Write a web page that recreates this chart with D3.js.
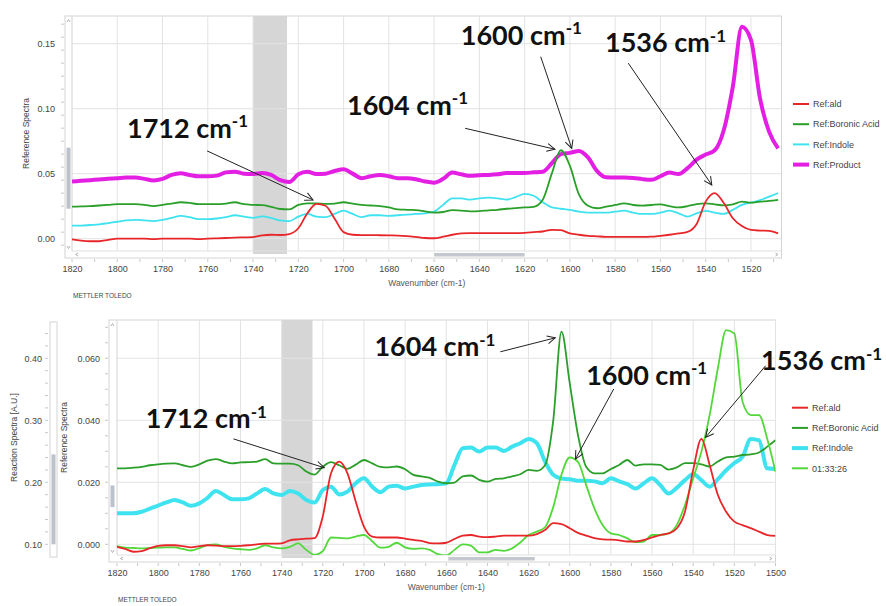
<!DOCTYPE html>
<html><head><meta charset="utf-8">
<script src="https://cdn.jsdelivr.net/npm/d3@7"></script>
<style>body{margin:0;background:#fff}svg{display:block}</style>
</head><body>
<svg id="chart" width="886" height="606"></svg>
<script>
// ---------------- DATA ----------------
const topWavenumbers = [1820,1816,1812,1808,1804,1800,1796,1792,1788,1784,1780,1776,1772,1768,1764,1760,1756,1752,1748,1744,1740,1736,1732,1728,1724,1720,1716,1712,1708,1704,1700,1696,1692,1688,1684,1680,1676,1672,1668,1664,1660,1656,1652,1648,1644,1640,1636,1632,1628,1624,1620,1616,1612,1608,1604,1600,1596,1592,1588,1584,1580,1576,1572,1568,1564,1560,1556,1552,1548,1544,1540,1536,1532,1528,1524,1520,1516,1512,1508];
const topAld = [-0.0005,-0.0015,-0.002,-0.002,-0.001,0.0,0.0,0.0,0.0,-0.0003,
  0.0,0.0,0.0,0.0,-0.0003,0.0,0.0002,0.0005,0.0008,0.001,
  0.0012,0.0025,0.003,0.0028,0.0035,0.008,0.0195,0.0267,0.0253,0.0155,
  0.005,0.003,0.0027,0.0027,0.0026,0.0025,0.0024,0.002,0.0013,0.0005,
  0.0003,0.0015,0.003,0.004,0.0043,0.0042,0.0042,0.0042,0.0043,0.0043,
  0.0045,0.005,0.0055,0.0068,0.0065,0.004,0.003,0.0022,0.0018,0.0014,
  0.0013,0.0013,0.0013,0.0013,0.0015,0.0022,0.003,0.004,0.0052,0.0113,
  0.0285,0.035,0.0274,0.0157,0.0097,0.0067,0.0062,0.006,0.004];
const topBoronic = [0.0246,0.0248,0.025,0.0255,0.026,0.0265,0.0265,0.0265,0.026,0.025,
  0.026,0.027,0.028,0.0275,0.0265,0.0265,0.0265,0.027,0.028,0.0265,
  0.026,0.0258,0.0245,0.0228,0.0225,0.026,0.0272,0.0272,0.0268,0.027,
  0.028,0.027,0.026,0.0255,0.025,0.024,0.0226,0.0222,0.022,0.021,
  0.020,0.0205,0.022,0.0215,0.021,0.0212,0.0218,0.0222,0.023,0.0235,
  0.024,0.0245,0.030,0.050,0.068,0.056,0.034,0.0253,0.0234,0.0246,
  0.0259,0.0272,0.0259,0.0254,0.0259,0.0264,0.025,0.024,0.025,0.0266,
  0.0272,0.0264,0.0256,0.0264,0.0285,0.0277,0.0285,0.029,0.0298];
const topIndole = [0.010,0.010,0.0105,0.011,0.012,0.013,0.014,0.0145,0.014,0.0135,
  0.0145,0.016,0.0175,0.0165,0.015,0.015,0.0155,0.0165,0.018,0.017,
  0.016,0.0172,0.016,0.014,0.0135,0.017,0.019,0.017,0.0165,0.019,
  0.0215,0.019,0.0165,0.018,0.018,0.0175,0.018,0.0185,0.019,0.0195,
  0.0208,0.026,0.031,0.031,0.030,0.031,0.0315,0.031,0.030,0.032,
  0.0344,0.033,0.028,0.024,0.023,0.0221,0.0208,0.020,0.020,0.020,
  0.0208,0.0215,0.020,0.019,0.019,0.020,0.0215,0.0195,0.0169,0.0195,
  0.0213,0.020,0.019,0.0221,0.026,0.0277,0.0297,0.0323,0.035];
const topProduct = [0.044,0.0445,0.045,0.0455,0.046,0.0465,0.047,0.047,0.046,0.0448,
  0.046,0.049,0.0503,0.049,0.048,0.048,0.0485,0.051,0.0515,0.050,
  0.0498,0.0505,0.049,0.045,0.0435,0.0495,0.0515,0.0498,0.050,0.052,
  0.0534,0.050,0.0465,0.048,0.049,0.048,0.0465,0.0465,0.0457,0.044,
  0.0431,0.046,0.0508,0.0495,0.0483,0.0488,0.049,0.0495,0.0505,0.0505,
  0.0505,0.051,0.0515,0.058,0.065,0.066,0.0675,0.0625,0.052,0.0472,
  0.047,0.047,0.0467,0.0458,0.0453,0.048,0.0508,0.0497,0.0543,0.0608,
  0.0647,0.068,0.0836,0.117,0.163,0.153,0.108,0.0823,0.0695];

const botWavenumbers = [1820,1816,1812,1808,1804,1800,1796,1792,1788,1784,1780,1776,1772,1768,1764,1760,1756,1752,1748,1744,1740,1736,1732,1728,1724,1720,1716,1712,1708,1704,1700,1696,1692,1688,1684,1680,1676,1672,1668,1664,1660,1656,1652,1648,1644,1640,1636,1632,1628,1624,1620,1616,1612,1608,1604,1600,1596,1592,1588,1584,1580,1576,1572,1568,1564,1560,1556,1552,1548,1544,1540,1536,1532,1528,1524,1520,1516,1512,1508,1504,1500];
const botAld = [-0.0008,-0.0015,-0.0024,-0.0022,-0.0012,-0.0005,-0.0003,-0.0003,-0.0006,-0.001,
  -0.0006,-0.0003,-0.0004,-0.0006,-0.0006,-0.0005,-0.0003,0.0,0.0002,0.0002,
  0.0003,0.0013,0.0016,0.0018,0.002,0.009,0.0229,0.0267,0.0229,0.0138,
  0.0057,0.0025,0.0022,0.0022,0.0022,0.0018,0.0014,0.0011,0.0004,0.0003,
  0.0005,0.0017,0.0028,0.003,0.0025,0.0023,0.0025,0.0028,0.0028,0.0028,
  0.0028,0.0033,0.0046,0.0068,0.0065,0.0052,0.0037,0.0028,0.002,0.0016,
  0.0015,0.0013,0.0009,0.0009,0.0014,0.0022,0.003,0.0035,0.0051,0.0105,
  0.024,0.034,0.0256,0.0159,0.0105,0.0073,0.0062,0.0052,0.0041,0.003,0.0027];
const botBoronic = [0.0245,0.0245,0.0247,0.025,0.0255,0.0258,0.026,0.0261,0.0255,0.025,
  0.0258,0.027,0.0275,0.0267,0.0261,0.0264,0.0265,0.0267,0.0275,0.0261,
  0.026,0.026,0.0255,0.0235,0.0225,0.025,0.0265,0.0255,0.0243,0.0257,
  0.0272,0.0261,0.025,0.0248,0.0251,0.0242,0.0224,0.0219,0.0214,0.0202,
  0.0197,0.0199,0.0219,0.0222,0.0208,0.0202,0.0211,0.0213,0.0219,0.0226,
  0.024,0.0237,0.0255,0.040,0.0686,0.052,0.0353,0.025,0.0229,0.0229,
  0.0243,0.0256,0.0272,0.0254,0.0258,0.0258,0.0256,0.0241,0.0248,0.0262,
  0.0262,0.0258,0.0251,0.0267,0.028,0.0283,0.0288,0.029,0.0296,0.0315,0.0336];
const botIndole = [0.010,0.010,0.010,0.0105,0.0115,0.0125,0.0135,0.0143,0.0135,0.0124,
  0.0132,0.015,0.0172,0.0159,0.0145,0.0145,0.0148,0.0164,0.0178,0.0164,
  0.0159,0.0172,0.0164,0.0143,0.0135,0.0175,0.0186,0.0161,0.017,0.0197,
  0.0213,0.0186,0.0168,0.0186,0.0189,0.018,0.0186,0.0191,0.0193,0.0194,
  0.0197,0.0256,0.031,0.0312,0.0299,0.0312,0.0312,0.0301,0.0315,0.0326,
  0.034,0.0326,0.0267,0.0224,0.0212,0.021,0.0205,0.0205,0.0203,0.0197,
  0.0213,0.0203,0.0194,0.018,0.0197,0.0213,0.0191,0.0164,0.0182,0.0207,
  0.0226,0.0207,0.0186,0.021,0.0239,0.0262,0.0283,0.034,0.0335,0.0245,0.0243];
// reaction spectrum 01:33:26, in A.U. (left "Reaction Spectra" axis)
const botReaction = [0.097,0.0945,0.094,0.0935,0.094,0.0945,0.095,0.095,0.0925,0.090,
  0.094,0.0985,0.100,0.096,0.0935,0.092,0.091,0.0935,0.0985,0.095,
  0.0935,0.096,0.1015,0.091,0.083,0.089,0.111,0.1105,0.1095,0.1125,
  0.115,0.105,0.0945,0.096,0.1025,0.095,0.0925,0.0935,0.091,0.084,
  0.082,0.091,0.100,0.098,0.087,0.087,0.091,0.0895,0.0935,0.103,
  0.115,0.1205,0.1275,0.160,0.2125,0.240,0.233,0.1955,0.158,0.131,
  0.1175,0.115,0.1095,0.1035,0.1045,0.115,0.115,0.1175,0.131,0.1635,
  0.2065,0.2495,0.3085,0.384,0.4455,0.440,0.330,0.3085,0.3085,0.270,0.217];

const topLegendLabels = ["Ref:ald","Ref:Boronic Acid","Ref:Indole","Ref:Product"];
const botLegendLabels = ["Ref:ald","Ref:Boronic Acid","Ref:Indole","01:33:26"];
const topXTicks = [1820,1800,1780,1760,1740,1720,1700,1680,1660,1640,1620,1600,1580,1560,1540,1520];
const botXTicks = [1820,1800,1780,1760,1740,1720,1700,1680,1660,1640,1620,1600,1580,1560,1540,1520,1500];
const topYTicks = [0.00,0.05,0.10,0.15];
const botRefTicks = [0.000,0.020,0.040,0.060];
const botReactionTicks = [0.10,0.20,0.30,0.40];
const shadedRegion = [1740,1725];

// annotations: label, text anchor (wavenumber,value), arrow start & tip (wavenumber,value)
const topAnnotations = [
  {label:"1712", tw:1795.7, tv:0.0775, w1:1760.3, v1:0.0675, w2:1713.5, v2:0.0298},
  {label:"1604", tw:1698.5, tv:0.0952, w1:1646.3, v1:0.0849, w2:1606.6, v2:0.0688},
  {label:"1600", tw:1648.2, tv:0.149,  w1:1612.9, v1:0.140,  w2:1599.2, v2:0.0695},
  {label:"1536", tw:1584.5, tv:0.1436, w1:1574.2, v1:0.135,  w2:1537.3, v2:0.0413}
];
const botAnnotations = [
  {label:"1712", tw:1806.0, tv:0.0375, w1:1763.4, v1:0.0340, w2:1719.3, v2:0.0247},
  {label:"1604", tw:1694.9, tv:0.0607, w1:1633.7, v1:0.0621, w2:1607.0, v2:0.0666},
  {label:"1600", tw:1592.0, tv:0.0514, w1:1578.6, v1:0.0501, w2:1597.2, v2:0.0275},
  {label:"1536", tw:1507.0, tv:0.0562, w1:1504.8, v1:0.0576, w2:1534.0, v2:0.0345}
];

// ---------------- STYLE / LAYOUT ----------------
const C = {red:"#e8262a", green:"#2a9f2a", cyan:"#3fe3f0", magenta:"#e21fe2", lime:"#52d83a"};
const FONT = "'Liberation Sans', Arial, sans-serif";
const ANNFONT = "Lato, 'Open Sans', sans-serif";
const svg = d3.select("#chart");

svg.append("defs").append("marker")
  .attr("id","arr").attr("viewBox","-10 -6 12 12").attr("refX",0).attr("refY",0)
  .attr("markerWidth",12).attr("markerHeight",12).attr("markerUnits","userSpaceOnUse")
  .attr("orient","auto")
  .append("path").attr("d","M-8,-4 L0,0 L-8,4").attr("fill","none").attr("stroke","#222").attr("stroke-width",1);

function panel(o) {
  const g = svg.append("g");
  const x = d3.scaleLinear().domain(o.xDomain).range([o.left, o.right]);
  const y = d3.scaleLinear().domain(o.yDomain).range([o.bottom, o.top]);
  const clipId = "clip" + o.id;
  svg.select("defs").append("clipPath").attr("id", clipId)
    .append("rect").attr("x", o.left).attr("y", o.top).attr("width", o.right - o.left).attr("height", o.bottom - o.top);

  // frame incl. scroll bars
  g.append("rect").attr("x", o.frameLeft).attr("y", o.top).attr("width", o.right - o.frameLeft)
    .attr("height", o.bottom + 7 - o.top).attr("fill", "#fff").attr("stroke", "#d4d4d4");
  // shaded region
  g.append("rect").attr("x", x(shadedRegion[0])).attr("y", o.top)
    .attr("width", x(shadedRegion[1]) - x(shadedRegion[0])).attr("height", o.bottom + 3 - o.top)
    .attr("fill", "#d6d6d6");
  // grid
  g.append("g").selectAll("line").data(o.xTicks).join("line")
    .attr("x1", d => x(d)).attr("x2", d => x(d)).attr("y1", o.top).attr("y2", o.bottom)
    .attr("stroke", "#e3e3e3");
  g.append("g").selectAll("line").data(o.yTicks).join("line")
    .attr("x1", o.left).attr("x2", o.right).attr("y1", d => y(d)).attr("y2", d => y(d))
    .attr("stroke", "#e3e3e3");
  g.append("line").attr("x1", o.left).attr("x2", o.left).attr("y1", o.top).attr("y2", o.bottom).attr("stroke", "#e0e0e0");
  g.append("line").attr("x1", o.left).attr("x2", o.right).attr("y1", o.bottom).attr("y2", o.bottom).attr("stroke", "#e0e0e0");

  // scroll bars
  g.append("rect").attr("x", o.frameLeft + 1.5).attr("y", y(o.vThumb[1])).attr("width", 4)
    .attr("height", y(o.vThumb[0]) - y(o.vThumb[1])).attr("fill", "#bcc2cc");
  g.append("rect").attr("x", x(o.hThumb[0])).attr("y", o.bottom + 2).attr("width", x(o.hThumb[1]) - x(o.hThumb[0]))
    .attr("height", 3.5).attr("fill", "#c4c8ce");
  const sa = "#b0b0b0";
  g.append("path").attr("d", `M${o.frameLeft+2},${o.top+6} l1.5,-2.5 l1.5,2.5`).attr("fill","none").attr("stroke",sa);
  g.append("path").attr("d", `M${o.frameLeft+2},${o.bottom-5} l1.5,2.5 l1.5,-2.5`).attr("fill","none").attr("stroke",sa);
  g.append("path").attr("d", `M${o.left+6},${o.bottom+2} l-2.5,1.5 l2.5,1.5`).attr("fill","none").attr("stroke",sa);
  g.append("path").attr("d", `M${o.right-6},${o.bottom+2} l2.5,1.5 l-2.5,1.5`).attr("fill","none").attr("stroke",sa);

  // x axis
  const xa = g.append("g").attr("transform", `translate(0,${o.bottom + 7})`)
    .call(d3.axisBottom(x).tickValues(o.xTicks).tickSize(0).tickPadding(8).tickFormat(d3.format("d")));
  xa.select(".domain").remove();
  xa.selectAll("text").attr("font-family", FONT).attr("font-size", 9).attr("fill", "#444");
  g.append("g").selectAll("line").data(d3.range(o.xDomain[0], o.xDomain[1] - 1, -10)).join("line")
    .attr("x1", d => x(d)).attr("x2", d => x(d)).attr("y1", o.bottom + 8).attr("y2", o.bottom + 11)
    .attr("stroke", "#c8c8c8");

  // y axis
  const ya = g.append("g").attr("transform", `translate(${o.frameLeft},0)`)
    .call(d3.axisLeft(y).tickValues(o.yTicks).tickSize(0).tickPadding(o.yPad).tickFormat(d3.format(o.yFmt)));
  ya.select(".domain").remove();
  ya.selectAll("text").attr("font-family", FONT).attr("font-size", 9).attr("fill", "#444");
  g.append("g").selectAll("line").data(d3.range(o.yMinor[0], o.yMinor[1], o.yMinor[2])).join("line")
    .attr("x1", o.frameLeft - 4).attr("x2", o.frameLeft - 1).attr("y1", d => y(d)).attr("y2", d => y(d))
    .attr("stroke", "#c8c8c8");

  // labels
  g.append("text").attr("transform", `translate(${o.yLabelX},${(o.top + o.bottom) / 2}) rotate(-90)`)
    .attr("text-anchor", "middle").attr("font-family", FONT).attr("font-size", 8.5).attr("fill", "#444")
    .text("Reference Spectra");
  g.append("text").attr("x", (o.left + o.right) / 2).attr("y", o.bottom + 35).attr("text-anchor", "middle")
    .attr("font-family", FONT).attr("font-size", 8.5).attr("fill", "#555").text("Wavenumber (cm-1)");
  g.append("text").attr("x", o.left + 1).attr("y", o.bottom + 47).attr("font-family", FONT)
    .attr("font-size", 6.5).attr("fill", "#444").text("METTLER TOLEDO");

  // series
  const plot = g.append("g").attr("clip-path", `url(#${clipId})`);
  o.series.forEach(s => {
    const ys = s.scale || y;
    const line = d3.line().x((d, i) => x(o.wn[i])).y(d => ys(d)).curve(d3.curveMonotoneX);
    plot.append("path").datum(s.values).attr("d", line).attr("fill", "none")
      .attr("stroke", s.color).attr("stroke-width", s.width).attr("stroke-linejoin", "round");
  });

  // legend
  const lg = g.append("g");
  o.series.slice().sort((a,b)=>a.legendOrder-b.legendOrder).forEach((s, i) => {
    const ly = o.legendY + i * 20.2;
    lg.append("line").attr("x1", o.legendX).attr("x2", o.legendX + 16).attr("y1", ly).attr("y2", ly)
      .attr("stroke", s.color).attr("stroke-width", s.width === 4 ? 4 : 2);
    lg.append("text").attr("x", o.legendX + 20).attr("y", ly + 3.2).attr("font-family", FONT)
      .attr("font-size", 9).attr("fill", "#444").text(s.name);
  });

  // annotations
  o.annotations.forEach(a => {
    g.append("line").attr("x1", x(a.w1)).attr("y1", y(a.v1)).attr("x2", x(a.w2)).attr("y2", y(a.v2))
      .attr("stroke", "#222").attr("stroke-width", 1).attr("marker-end", "url(#arr)");
    const t = g.append("text").attr("x", x(a.tw)).attr("y", y(a.tv)).attr("font-family", ANNFONT)
      .attr("font-weight", "bold").attr("font-size", 27).attr("fill", "#111");
    t.append("tspan").text(a.label + " cm");
    t.append("tspan").attr("dy", -10.5).attr("font-size", 17).text("-1");
  });
  return {x, y};
}

// top panel
panel({
  id: "top", left: 72, right: 781.5, top: 16, bottom: 251, frameLeft: 65,
  xDomain: [1820, 1506.5], yDomain: [-0.0095, 0.1713],
  xTicks: topXTicks, yTicks: topYTicks, yFmt: ".2f", yPad: 10, yMinor: [-0.005, 0.17, 0.01],
  yLabelX: 29, vThumb: [0.023, 0.070], hThumb: [1660, 1620],
  wn: topWavenumbers,
  series: [
    {name: "Ref:Product", values: topProduct, color: C.magenta, width: 4, legendOrder: 3},
    {name: "Ref:Indole", values: topIndole, color: C.cyan, width: 1.8, legendOrder: 2},
    {name: "Ref:Boronic Acid", values: topBoronic, color: C.green, width: 1.8, legendOrder: 1},
    {name: "Ref:ald", values: topAld, color: C.red, width: 1.8, legendOrder: 0}
  ],
  legendX: 793, legendY: 104,
  annotations: topAnnotations
});

// bottom panel
const bot = {
  id: "bot", left: 117, right: 775.5, top: 320, bottom: 555, frameLeft: 109,
  xDomain: [1820, 1500], yDomain: [-0.00345, 0.07235],
  xTicks: botXTicks, yTicks: botRefTicks, yFmt: ".3f", yPad: 9, yMinor: [0, 0.072, 0.005],
  yLabelX: 67, vThumb: [0.012, 0.019], hThumb: [1659, 1617],
  wn: botWavenumbers, legendX: 792, legendY: 407.7, annotations: botAnnotations
};
const reactionScale = d3.scaleLinear().domain([0.08274, 0.46177]).range([bot.bottom, bot.top]);
bot.series = [
  {name: "Ref:Indole", values: botIndole, color: C.cyan, width: 4, legendOrder: 2},
  {name: "Ref:Boronic Acid", values: botBoronic, color: C.green, width: 1.8, legendOrder: 1},
  {name: "01:33:26", values: botReaction, color: C.lime, width: 1.8, legendOrder: 3, scale: reactionScale},
  {name: "Ref:ald", values: botAld, color: C.red, width: 1.8, legendOrder: 0}
];
panel(bot);

// reaction axis (left)
const rg = svg.append("g");
rg.append("rect").attr("x", 50).attr("y", bot.top + 2).attr("width", 7).attr("height", bot.bottom - bot.top)
  .attr("fill", "#fff").attr("stroke", "#d4d4d4");
rg.append("rect").attr("x", 51.5).attr("y", reactionScale(0.245)).attr("width", 4)
  .attr("height", reactionScale(0.10) - reactionScale(0.245)).attr("fill", "#bcc2cc");
const ra = rg.append("g").attr("transform", "translate(50,0)")
  .call(d3.axisLeft(reactionScale).tickValues(botReactionTicks).tickSize(0).tickPadding(8).tickFormat(d3.format(".2f")));
ra.select(".domain").remove();
ra.selectAll("text").attr("font-family", FONT).attr("font-size", 9).attr("fill", "#444");
rg.append("g").selectAll("line").data(d3.range(0.10, 0.46, 0.02)).join("line")
  .attr("x1", 45).attr("x2", 48).attr("y1", d => reactionScale(d)).attr("y2", d => reactionScale(d)).attr("stroke", "#c8c8c8");
rg.append("text").attr("transform", `translate(17,${(bot.top + bot.bottom) / 2}) rotate(-90)`)
  .attr("text-anchor", "middle").attr("font-family", FONT).attr("font-size", 8.5).attr("fill", "#444")
  .text("Reaction Spectra [A.U.]");
</script>
</body></html>
